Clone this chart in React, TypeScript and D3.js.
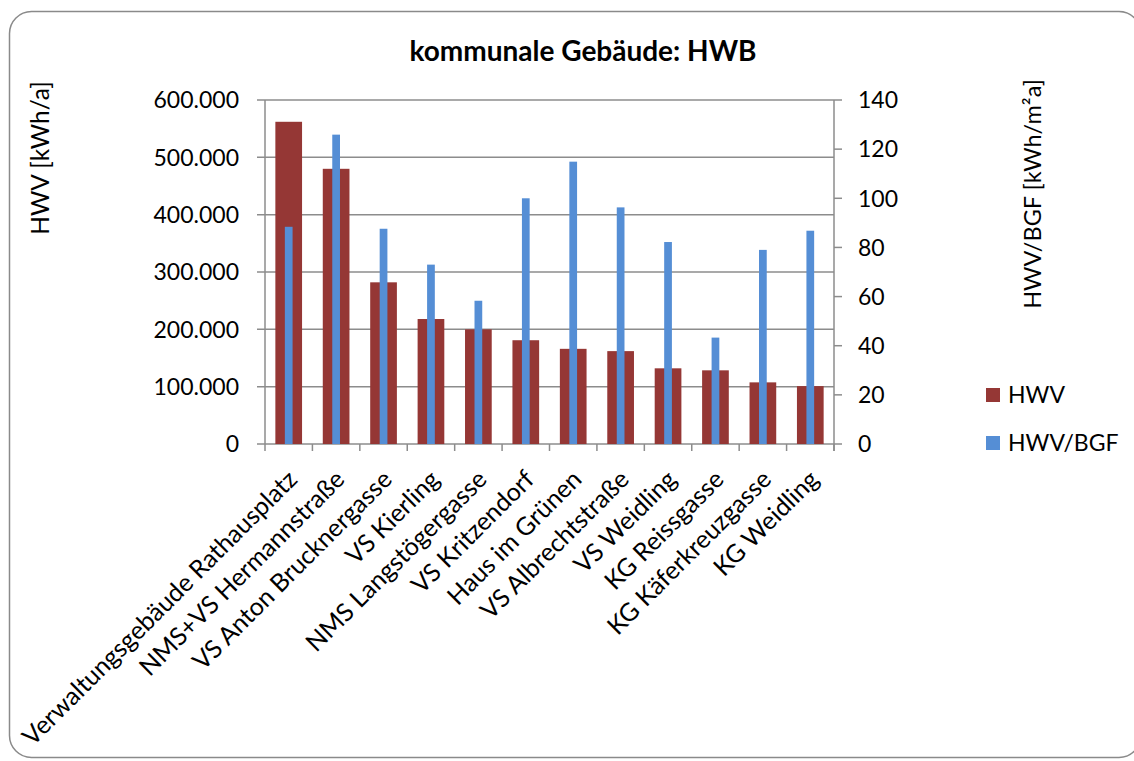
import React, { useEffect, useRef } from "react";
import * as d3 from "d3";

// building names (x axis)
const buildings = [
  "Verwaltungsgebäude Rathausplatz",
  "NMS+VS Hermannstraße",
  "VS Anton Brucknergasse",
  "VS Kierling",
  "NMS Langstögergasse",
  "VS Kritzendorf",
  "Haus im Grünen",
  "VS Albrechtstraße",
  "VS Weidling",
  "KG Reissgasse",
  "KG Käferkreuzgasse",
  "KG Weidling",
];

// HWV [kWh/a] - left axis
const hwv = [562000, 480000, 282000, 218000, 200000, 181000, 166000, 162000, 132000, 128500, 107500, 101000];

// HWV/BGF [kWh/m²a] - right axis
const hwvBgf = [88.4, 125.9, 87.6, 73.0, 58.3, 100.0, 114.9, 96.3, 82.2, 43.3, 79.0, 86.8];

const leftTicks = [0, 100000, 200000, 300000, 400000, 500000, 600000];
const rightTicks = [0, 20, 40, 60, 80, 100, 120, 140];

const FONT = "Lato, 'Open Sans', sans-serif";
const RED = "#953735";
const BLUE = "#558ed5";
const GRID = "#8c8c8c";

const de = d3.formatLocale({ decimal: ",", thousands: ".", grouping: [3], currency: ["", "€"] });
const fmt = de.format(",.0f");

export default function App() {
  const ref = useRef<SVGSVGElement>(null);

  useEffect(() => {
    const svg = d3.select(ref.current);
    svg.selectAll("*").remove();

    const left = 265, right = 834, top = 100, bottom = 444;

    // outer frame (right edge runs just past the picture)
    svg.append("rect")
      .attr("x", 9.5).attr("y", 11.5)
      .attr("width", 1131.5).attr("height", 746)
      .attr("rx", 22).attr("ry", 22)
      .attr("fill", "white")
      .attr("stroke", "#8a8a8a")
      .attr("stroke-width", 1.5);

    const x = d3.scaleBand().domain(buildings).range([left, right]).padding(0);
    const y1 = d3.scaleLinear().domain([0, 600000]).range([bottom, top]);
    const y2 = d3.scaleLinear().domain([0, 140]).range([bottom, top]);

    const g = svg.append("g");

    // gridlines
    g.selectAll(".grid")
      .data(leftTicks)
      .enter()
      .append("line")
      .attr("x1", left - 8).attr("x2", right)
      .attr("y1", (d) => y1(d)).attr("y2", (d) => y1(d))
      .attr("stroke", GRID).attr("stroke-width", 1.5);

    // left axis line
    g.append("line")
      .attr("x1", left).attr("x2", left)
      .attr("y1", top).attr("y2", bottom)
      .attr("stroke", GRID).attr("stroke-width", 1.5);

    // right axis line + ticks
    g.append("line")
      .attr("x1", right).attr("x2", right)
      .attr("y1", top).attr("y2", bottom + 7)
      .attr("stroke", GRID).attr("stroke-width", 1.5);
    g.selectAll(".rtick")
      .data(rightTicks)
      .enter()
      .append("line")
      .attr("x1", right).attr("x2", right + 8)
      .attr("y1", (d) => y2(d)).attr("y2", (d) => y2(d))
      .attr("stroke", GRID).attr("stroke-width", 1.5);

    // category ticks
    const bounds = buildings.map((b) => x(b) as number).concat([right]);
    g.selectAll(".xtick")
      .data(bounds)
      .enter()
      .append("line")
      .attr("x1", (d) => d).attr("x2", (d) => d)
      .attr("y1", bottom).attr("y2", bottom + 7)
      .attr("stroke", GRID).attr("stroke-width", 1.5);

    // bars
    const bw = x.bandwidth();
    const redW = bw * 0.563;
    const blueW = bw * 0.163;
    g.selectAll(".hwv")
      .data(hwv)
      .enter()
      .append("rect")
      .attr("x", (d, i) => (x(buildings[i]) as number) + (bw - redW) / 2)
      .attr("y", (d) => y1(d))
      .attr("width", redW)
      .attr("height", (d) => bottom - y1(d))
      .attr("fill", RED);

    g.selectAll(".bgf")
      .data(hwvBgf)
      .enter()
      .append("rect")
      .attr("x", (d, i) => (x(buildings[i]) as number) + (bw - blueW) / 2)
      .attr("y", (d) => y2(d))
      .attr("width", blueW)
      .attr("height", (d) => bottom - y2(d))
      .attr("fill", BLUE);

    // left tick labels
    g.selectAll(".ltl")
      .data(leftTicks)
      .enter()
      .append("text")
      .attr("x", 239)
      .attr("y", (d) => y1(d))
      .attr("dy", "0.36em")
      .attr("text-anchor", "end")
      .style("font-family", FONT)
      .style("font-size", "23px")
      .text((d) => fmt(d));

    // right tick labels
    g.selectAll(".rtl")
      .data(rightTicks)
      .enter()
      .append("text")
      .attr("x", 858)
      .attr("y", (d) => y2(d))
      .attr("dy", "0.36em")
      .attr("text-anchor", "start")
      .style("font-family", FONT)
      .style("font-size", "23px")
      .text((d) => d);

    // category labels
    g.selectAll(".xl")
      .data(buildings)
      .enter()
      .append("text")
      .attr("transform", (d) => `translate(${(x(d) as number) + bw / 2 + 10}, 481) rotate(-45)`)
      .attr("text-anchor", "end")
      .style("font-family", FONT)
      .style("font-size", "25px")
      .text((d) => d);

    // title
    svg.append("text")
      .attr("x", 583).attr("y", 61)
      .attr("text-anchor", "middle")
      .style("font-family", FONT)
      .style("font-weight", "bold")
      .style("font-size", "28px")
      .text("kommunale Gebäude: HWB");

    // axis titles
    svg.append("text")
      .attr("transform", "translate(40, 158) rotate(-90)")
      .attr("text-anchor", "middle")
      .attr("dy", "0.36em")
      .style("font-family", FONT)
      .style("font-size", "24.5px")
      .text("HWV [kWh/a]");

    svg.append("text")
      .attr("transform", "translate(1033, 194) rotate(-90)")
      .attr("text-anchor", "middle")
      .attr("dy", "0.36em")
      .style("font-family", FONT)
      .style("font-size", "23.5px")
      .text("HWV/BGF [kWh/m²a]");

    // legend
    const legend = svg.append("g").attr("transform", "translate(986, 388)");
    const items = [
      { name: "HWV", color: RED },
      { name: "HWV/BGF", color: BLUE },
    ];
    legend.selectAll("rect")
      .data(items)
      .enter()
      .append("rect")
      .attr("x", 0)
      .attr("y", (d, i) => i * 48)
      .attr("width", 14).attr("height", 14)
      .attr("fill", (d) => d.color);
    legend.selectAll("text")
      .data(items)
      .enter()
      .append("text")
      .attr("x", 22)
      .attr("y", (d, i) => i * 48 + 7)
      .attr("dy", "0.36em")
      .style("font-family", FONT)
      .style("font-size", "23px")
      .text((d) => d.name);
  }, []);

  return (
    <svg
      ref={ref}
      width={1134}
      height={761}
      style={{ position: "absolute", left: 0, top: 0, background: "white" }}
    />
  );
}
